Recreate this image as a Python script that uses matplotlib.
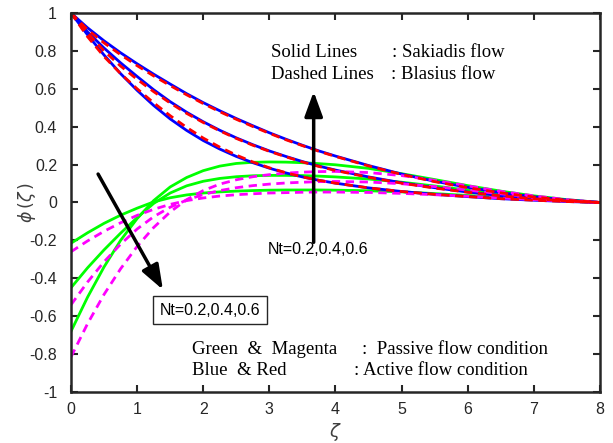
# Velocity/concentration profiles phi(zeta): Sakiadis vs Blasius flow
import numpy as np
import matplotlib.pyplot as plt
import matplotlib.ticker as ticker

plt.rcParams['axes.unicode_minus'] = False

# Data
zeta = [0, 0.25, 0.5, 0.75, 1, 1.25, 1.5, 1.75, 2, 2.25, 2.5, 2.75, 3, 3.25, 3.5, 3.75, 4,
        4.5, 5, 5.5, 6, 6.5, 7, 7.5, 8]

# active flow (blue solid = Sakiadis, red dashed = Blasius)
blue_1 = [1, .922, .853, .79, .732, .677, .625, .574, .527, .484, .443, .405, .368, .334, .302, .272, .245,
          .195, .15, .112, .08, .052, .03, .013, 0]
blue_2 = [1, .9, .815, .737, .665, .595, .532, .476, .426, .381, .341, .305, .272, .243, .216, .192, .171,
          .135, .104, .078, .055, .036, .02, .008, 0]
blue_3 = [1, .885, .778, .68, .592, .512, .441, .38, .327, .282, .243, .21, .181, .156, .135, .117, .102,
          .077, .058, .043, .031, .02, .012, .005, 0]
red_1 = [1, .912, .842, .78, .722, .668, .617, .568, .522, .479, .439, .401, .365, .331, .3, .27, .243,
         .193, .148, .11, .078, .051, .029, .012, 0]
red_2 = [1, .895, .8, .72, .65, .585, .525, .47, .422, .378, .338, .302, .27, .241, .214, .19, .169,
         .133, .102, .076, .054, .035, .02, .008, 0]
red_3 = [1, .875, .77, .68, .6, .526, .458, .396, .34, .292, .25, .214, .183, .157, .135, .117, .102,
         .077, .058, .043, .031, .02, .012, .005, 0]

# passive flow (green solid = Sakiadis, magenta dashed = Blasius)
green_1 = [-.215, -.16, -.11, -.067, -.03, .003, .025, .04, .05, .056, .06, .063, .065, .066, .066, .066, .065,
           .062, .056, .047, .037, .027, .017, .008, 0]
green_2 = [-.45, -.345, -.25, -.162, -.08, -.005, .05, .088, .112, .127, .136, .141, .143, .143, .142, .139, .135,
           .124, .107, .087, .065, .045, .027, .012, 0]
green_3 = [-.68, -.5, -.34, -.2, -.085, .01, .082, .132, .168, .192, .206, .212, .214, .213, .21, .205, .199,
           .18, .152, .121, .089, .06, .035, .015, 0]
mag_1 = [-.26, -.203, -.152, -.107, -.068, -.036, -.01, .01, .024, .034, .041, .046, .05, .052, .054, .055, .055,
         .053, .048, .041, .033, .024, .015, .007, 0]
mag_2 = [-.54, -.42, -.313, -.22, -.14, -.075, -.025, .013, .042, .063, .078, .089, .097, .103, .107, .11, .111,
         .108, .099, .084, .065, .046, .028, .012, 0]
mag_3 = [-.815, -.64, -.485, -.35, -.232, -.132, -.05, .015, .063, .097, .12, .136, .147, .155, .16, .163, .164,
         .158, .142, .117, .088, .059, .035, .015, 0]

# Plot
fig = plt.figure(figsize=(6.13, 4.43), dpi=100)
ax = fig.add_axes([0.1158, 0.1151, 0.863, 0.8556])

lw = 2
dash = (0, (3, 2))
for g in (green_1, green_2, green_3):
    ax.plot(zeta, g, color=(0, 1, 0), linewidth=lw)
for b in (blue_1, blue_2, blue_3):
    ax.plot(zeta, b, color=(0, 0, 1), linewidth=lw)
for m in (mag_1, mag_2, mag_3):
    ax.plot(zeta, m, color=(1, 0, 1), linewidth=lw, linestyle=dash)
for r in (red_1, red_2, red_3):
    ax.plot(zeta, r, color=(1, 0, 0), linewidth=lw, linestyle=dash)

ax.set_xlim(0, 8)
ax.set_ylim(-1, 1)
ax.set_xticks(np.arange(0, 9, 1))
ax.set_yticks(np.linspace(-1, 1, 11))
ax.yaxis.set_major_formatter(ticker.FuncFormatter(lambda v, p: '%g' % round(v, 1)))
ax.tick_params(direction='in', top=True, right=True, length=5, width=1.5,
               labelsize=11.5, colors='#262626', pad=7)
ax.tick_params(axis='y', pad=10)
for lab in ax.get_xticklabels() + ax.get_yticklabels():
    lab.set_fontfamily('Liberation Sans')
for s in ax.spines.values():
    s.set_linewidth(1.8)
    s.set_color('#262626')

ax.set_xlabel(r'$\zeta$', fontsize=13, color='#404040', labelpad=3)
ax.set_ylabel(r'$\phi\,(\zeta\,)$', fontsize=12.5, color='#404040')
ax.yaxis.set_label_coords(-0.062, 0.5)

# Annotations
tf = dict(fontfamily='Liberation Serif', fontsize=13.5, va='center')
ax.text(3.02, 0.79, 'Solid Lines', **tf)
ax.text(4.86, 0.79, ': Sakiadis flow', **tf)
ax.text(3.02, 0.675, 'Dashed Lines', **tf)
ax.text(4.84, 0.675, ': Blasius flow', **tf)
ax.text(1.83, -0.775, 'Green  &  Magenta', **tf)
ax.text(4.4, -0.775, ':  Passive flow condition', **tf)
ax.text(1.83, -0.885, 'Blue  & Red', **tf)
ax.text(4.28, -0.885, ': Active flow condition', **tf)

ax.text(2.1, -0.568, 'Nt=0.2,0.4,0.6', fontfamily='Liberation Sans', fontsize=11.5,
        ha='center', va='center',
        bbox=dict(boxstyle='square,pad=0.4', facecolor='white', edgecolor='#262626', linewidth=1))
ax.text(2.97, -0.25, 'Nt=0.2,0.4,0.6', fontfamily='Liberation Sans', fontsize=11.5,
        ha='left', va='center')

ap = dict(arrowstyle='-|>,head_length=1.5,head_width=0.55', color='black', lw=2.5,
          shrinkA=0, shrinkB=0)
ax.annotate('', xy=(1.39, -0.46), xytext=(0.41, 0.15), arrowprops=ap)
ax.annotate('', xy=(3.67, 0.585), xytext=(3.67, -0.21), arrowprops=ap)

fig.savefig('out.png', dpi=100)
